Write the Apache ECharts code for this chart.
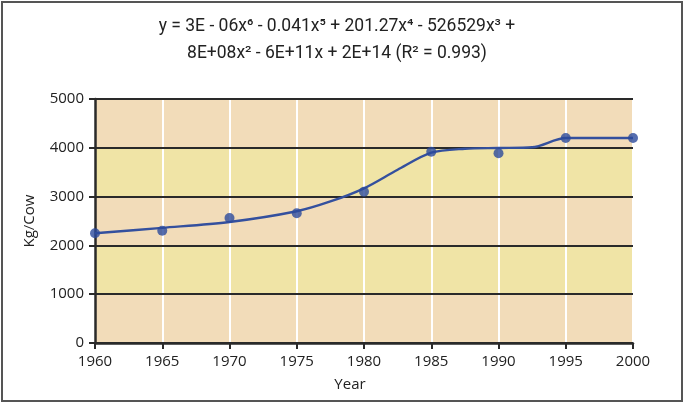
<!DOCTYPE html>
<html>
<head>
<meta charset="utf-8">
<script src="https://cdn.jsdelivr.net/npm/echarts@6/dist/echarts.min.js"></script>
<style>html,body{margin:0;padding:0;background:#fff}#c{width:685px;height:403px}</style>
</head>
<body>
<div id="c"></div>
<script>
// Observed data points (Year, Kg/Cow)
const years = [1960, 1965, 1970, 1975, 1980, 1985, 1990, 1995, 2000];
const kgPerCow = [2250, 2300, 2560, 2660, 3100, 3920, 3890, 4200, 4200];
// Polynomial trend line
const trendYears = [1960, 1965, 1970, 1975, 1977.5, 1980, 1982.5, 1985, 1987.5, 1990, 1992.5, 1995, 2000];
const trendValues = [2250, 2360, 2480, 2700, 2900, 3170, 3550, 3900, 3980, 3995, 4010, 4200, 4200];
const yTicks = [0, 1000, 2000, 3000, 4000, 5000];
const xTicks = [1960, 1965, 1970, 1975, 1980, 1985, 1990, 1995, 2000];
const titleLines = [
  'y = 3E - 06x\u2076 - 0.041x\u2075 + 201.27x\u2074 - 526529x\u00b3 +',
  '8E+08x\u00b2 - 6E+11x + 2E+14 (R\u00b2 = 0.993)'
];
const xName = 'Year';
const yName = 'Kg/Cow';

const font = 'Open Sans';
const chart = echarts.init(document.getElementById('c'), null, {renderer: 'canvas'});
chart.setOption({
  animation: false,
  backgroundColor: '#ffffff',
  title: {
    text: titleLines.join('\n'),
    left: 332, top: 8, textAlign: 'center',
    textStyle: {fontFamily: 'Roboto', fontSize: 17.5, fontWeight: 'normal', color: '#222', lineHeight: 27}
  },
  graphic: [{
    type: 'rect', silent: true, z: 100,
    shape: {x: 2, y: 2, width: 680, height: 399},
    style: {fill: 'none', stroke: '#555', lineWidth: 2}
  }],
  grid: {left: 95, right: 52, top: 99, bottom: 60},
  xAxis: {
    type: 'value', min: xTicks[0], max: xTicks[xTicks.length - 1], interval: 5, z: 1,
    name: xName, nameLocation: 'middle', nameGap: 34,
    nameTextStyle: {fontFamily: font, fontSize: 15, color: '#222', padding: [0, 28, 0, 0]},
    axisLine: {onZero: false, lineStyle: {color: '#2a2a2a', width: 2.5}},
    axisTick: {show: true, length: 6, lineStyle: {color: '#2a2a2a', width: 2}},
    axisLabel: {fontFamily: font, fontSize: 15, color: '#222', margin: 11, formatter: v => String(v)},
    splitLine: {show: true, lineStyle: {color: '#ffffff', width: 2}}
  },
  yAxis: [{
    type: 'value', min: yTicks[0], max: yTicks[yTicks.length - 1], interval: 1000, z: 2,
    name: yName, nameLocation: 'middle', nameGap: 58,
    nameTextStyle: {fontFamily: font, fontSize: 15, color: '#222'},
    axisLine: {show: true, lineStyle: {color: '#2a2a2a', width: 2.5}},
    axisTick: {show: true, length: 6, lineStyle: {color: '#2a2a2a', width: 2}},
    axisLabel: {fontFamily: font, fontSize: 15, color: '#222', margin: 11, formatter: v => String(v)},
    splitLine: {show: true, lineStyle: {color: '#2a2a2a', width: 2}}
  }, {
    type: 'value', min: yTicks[0], max: yTicks[yTicks.length - 1], interval: 1000, z: 0,
    position: 'left',
    axisLine: {show: false}, axisTick: {show: false}, axisLabel: {show: false},
    splitLine: {show: false},
    splitArea: {show: true, areaStyle: {color: ['#f2dcb9', '#f0e4a6']}}
  }],
  series: [{
    type: 'line', z: 5, yAxisIndex: 0,
    data: trendYears.map((y, i) => [y, trendValues[i]]),
    smooth: 0.3, showSymbol: false,
    lineStyle: {color: '#34509e', width: 2.4}
  }, {
    type: 'scatter', z: 6, yAxisIndex: 0,
    data: years.map((y, i) => [y, kgPerCow[i]]),
    symbolSize: 10,
    itemStyle: {color: '#2c4a9b'}
  }]
});
</script>
</body>
</html>
